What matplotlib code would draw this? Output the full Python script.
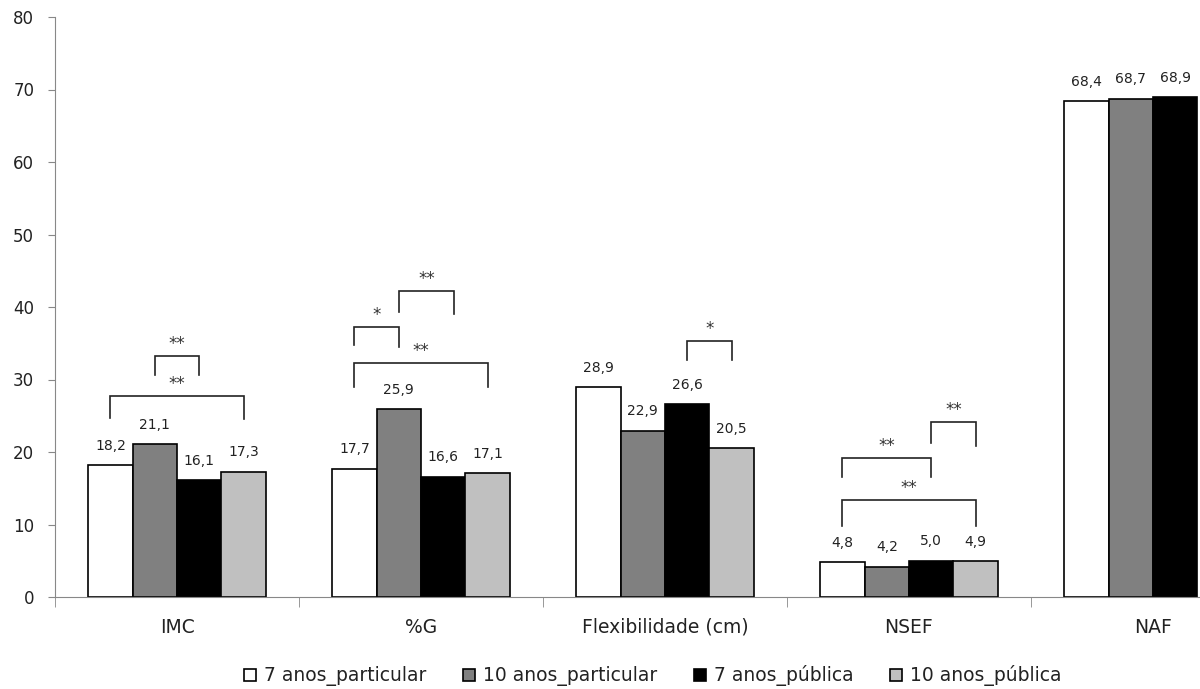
import numpy as np
import matplotlib
matplotlib.use("Agg")
import matplotlib.pyplot as plt

categories = ["IMC", "%G", "Flexibilidade (cm)", "NSEF", "NAF"]
series_names = ["7 anos_particular", "10 anos_particular", "7 anos_pública", "10 anos_pública"]
p7_particular = [18.2, 17.7, 28.9, 4.8, 68.4]
p10_particular = [21.1, 25.9, 22.9, 4.2, 68.7]
p7_publica = [16.1, 16.6, 26.6, 5.0, 68.9]
p10_publica = [17.3, 17.1, 20.5, 4.9, np.nan]  # cut off at the right edge of the picture

# significance brackets: (category, bar a, bar b, bar height, leg bottom a, leg bottom b, stars)
brackets = [
    (0, 1, 2, 33.2, 30.6, 30.6, "**"),
    (0, 0, 3, 27.7, 24.7, 24.6, "**"),
    (1, 0, 1, 37.2, 34.8, 34.5, "*"),
    (1, 1, 2.25, 42.2, 39.3, 39.0, "**"),
    (1, 0, 3, 32.3, 29.0, 29.0, "**"),
    (2, 2, 3, 35.3, 32.7, 32.7, "*"),
    (3, 2, 3, 24.1, 21.2, 20.8, "**"),
    (3, 0, 2, 19.2, 16.5, 16.5, "**"),
    (3, 0, 3, 13.4, 9.8, 9.8, "**"),
]

series = [p7_particular, p10_particular, p7_publica, p10_publica]
colors = ["white", "#808080", "black", "#c0c0c0"]

fig = plt.figure(figsize=(12, 6.89), dpi=100)
ax = fig.add_axes([55 / 1200, 92 / 689, 1220 / 1200, 580 / 689])

x = np.arange(len(categories))
w = 0.182
offsets = (np.arange(4) - 1.5) * w

for vals, col, name, off in zip(series, colors, series_names, offsets):
    ax.bar(x + off, vals, w, color=col, edgecolor="black", linewidth=1.2, label=name)
    for xi, v in zip(x, vals):
        if np.isnan(v):
            continue
        ax.annotate(f"{v:.1f}".replace(".", ","), (xi + off, v), xytext=(0, 9),
                    textcoords="offset points", ha="center", va="bottom",
                    fontsize=10, color="#222222")

for cat, a, b, h, la, lb, s in brackets:
    xa = x[cat] + (a - 1.5) * w
    xb = x[cat] + (b - 1.5) * w
    ax.plot([xa, xa, xb, xb], [la, h, h, lb], color="#222222", lw=1.2,
            solid_joinstyle="miter")
    ax.text((xa + xb) / 2, h + 0.4, s, ha="center", va="bottom", fontsize=12,
            color="#333333")

ax.set_xlim(-0.5, len(categories) - 0.5)
ax.set_ylim(0, 80)
ax.set_yticks(np.arange(0, 81, 10))
ax.set_xticks(x)
ax.set_xticklabels(categories, fontsize=13.5, color="#222222")
ax.set_xticks(np.arange(len(categories) + 1) - 0.5, minor=True)
ax.tick_params(axis="x", which="major", length=0, pad=15)
ax.tick_params(axis="x", which="minor", length=7, color="#888888", direction="out")
ax.tick_params(axis="y", length=5, color="#888888", labelsize=12, pad=10,
               labelcolor="#222222")

for side in ["top", "right"]:
    ax.spines[side].set_visible(False)
for side in ["left", "bottom"]:
    ax.spines[side].set_color("#888888")

leg = fig.legend(loc="center", bbox_to_anchor=(0.544, 0.019), ncol=4, frameon=False,
                 fontsize=13.5, handlelength=0.64, handleheight=0.64, handletextpad=0.43,
                 columnspacing=1.95)
for t in leg.get_texts():
    t.set_color("#222222")

fig.savefig("out.png", dpi=100)
